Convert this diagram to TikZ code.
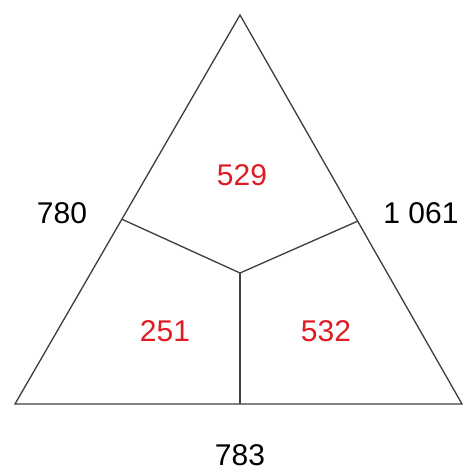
\documentclass[tikz,border=0pt]{standalone}
\usepackage{fontspec}
\setmainfont{Liberation Sans}
\usetikzlibrary{calc}
\definecolor{numred}{RGB}{222,28,36}
\begin{document}
\begin{tikzpicture}[x=0.75pt, y=0.75pt, font=\fontsize{22.5}{26}\selectfont,
        edge/.style={draw=black!75, line width=1pt},
        count/.style={text=numred}]
        \useasboundingbox (0,0) rectangle (463,472);
        \coordinate (top) at (240,457);
        \coordinate (left) at (15,68);
        \coordinate (right) at (462,68);
        \coordinate (mid) at (240,199);
        \coordinate (ml) at ($(top)!0.525!(left)$);
        \coordinate (mr) at ($(top)!0.53!(right)$);
        \coordinate (mb) at (240,68);
        \draw[edge] (top) -- (left) -- (right) -- cycle;
        \draw[edge] (ml) -- (mid) -- (mr);
        \draw[edge] (mid) -- (mb);
        \node (a) at (62,259) {780};
        \node (b) at (421,259) {1 061};
        \node (c) at (240,17) {783};
        \node[count] (ab) at (242,297) {529};
        \node[count] (ac) at (165,141) {251};
        \node[count] (bc) at (326,141) {532};
    \end{tikzpicture}
\end{document}
